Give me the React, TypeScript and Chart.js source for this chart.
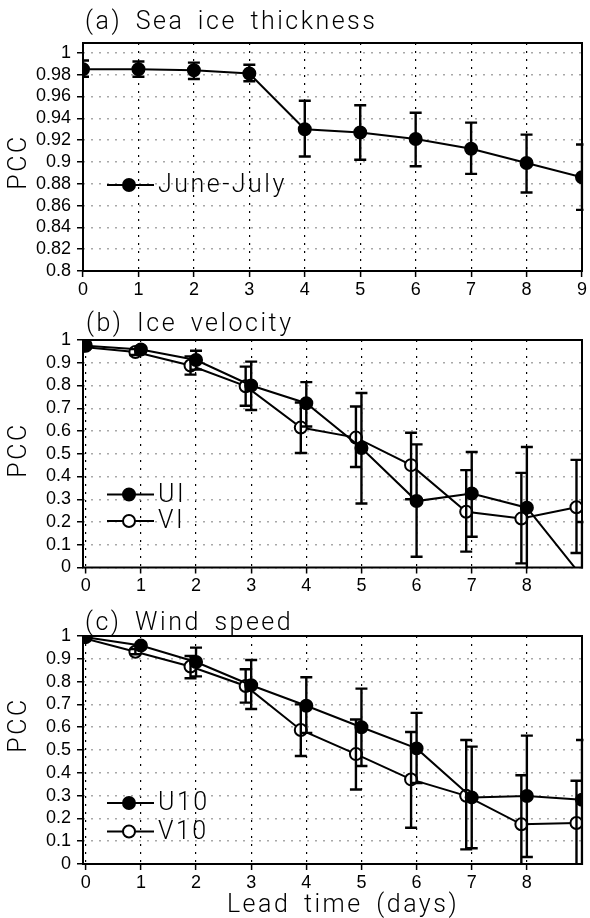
import React, { useEffect, useRef } from "react";
import { Chart, registerables } from "chart.js";

Chart.register(...registerables);

// ---------------- data ----------------
const leadDays = [0, 1, 2, 3, 4, 5, 6, 7, 8, 9];

// (a) Sea ice thickness
const thicknessLabel = "June-July";
const thicknessPCC = [0.985, 0.985, 0.984, 0.981, 0.93, 0.927, 0.921, 0.912, 0.899, 0.886];
const thicknessLow = [0.978, 0.978, 0.976, 0.974, 0.905, 0.902, 0.896, 0.889, 0.872, 0.856];
const thicknessHigh = [0.993, 0.992, 0.991, 0.989, 0.956, 0.952, 0.945, 0.936, 0.925, 0.916];

// (b) Ice velocity
const uiLabel = "UI";
const uiPCC = [0.975, 0.958, 0.912, 0.8, 0.722, 0.525, 0.292, 0.325, 0.263, -0.04];
const uiLow = [0.962, 0.946, 0.87, 0.692, 0.62, 0.281, 0.047, 0.135, -0.05, -0.3];
const uiHigh = [0.988, 0.97, 0.953, 0.905, 0.815, 0.767, 0.541, 0.508, 0.53, 0.2];
const viLabel = "VI";
const viPCC = [0.97, 0.947, 0.888, 0.797, 0.615, 0.571, 0.45, 0.245, 0.215, 0.265];
const viLow = [0.956, 0.934, 0.848, 0.711, 0.503, 0.442, 0.3, 0.07, 0.018, 0.064];
const viHigh = [0.984, 0.96, 0.928, 0.883, 0.725, 0.708, 0.592, 0.428, 0.416, 0.473];

// (c) Wind speed
const u10Label = "U10";
const u10PCC = [0.995, 0.958, 0.886, 0.784, 0.694, 0.6, 0.507, 0.292, 0.298, 0.282];
const u10Low = [0.988, 0.946, 0.823, 0.68, 0.575, 0.43, 0.355, 0.069, 0.031, -0.01];
const u10High = [1.0, 0.97, 0.949, 0.895, 0.819, 0.769, 0.663, 0.515, 0.563, 0.544];
const v10Label = "V10";
const v10PCC = [0.994, 0.931, 0.866, 0.781, 0.588, 0.482, 0.371, 0.299, 0.174, 0.18];
const v10Low = [0.986, 0.92, 0.815, 0.708, 0.474, 0.327, 0.159, 0.064, -0.01, -0.01];
const v10High = [1.0, 0.943, 0.912, 0.854, 0.7, 0.634, 0.579, 0.544, 0.389, 0.365];

// ticks & texts
const xTicksA = ["0", "1", "2", "3", "4", "5", "6", "7", "8", "9"];
const xTicksBC = ["0", "1", "2", "3", "4", "5", "6", "7", "8"];
const yTicksA = ["0.8", "0.82", "0.84", "0.86", "0.88", "0.9", "0.92", "0.94", "0.96", "0.98", "1"];
const yTicksBC = ["0", "0.1", "0.2", "0.3", "0.4", "0.5", "0.6", "0.7", "0.8", "0.9", "1"];
const titleA = "(a) Sea ice thickness";
const titleB = "(b) Ice velocity";
const titleC = "(c) Wind speed";
const yAxisTitle = "PCC";
const xAxisTitle = "Lead time (days)";

// ---------------- styling ----------------
const OPEN_SHIFT = -0.1;
const TICK_FONT = { family: "'Liberation Sans', Arial, sans-serif", size: 18 };
const DECOR_FONT = "300 25px Roboto, 'Liberation Sans', sans-serif";

const decorPlugin = {
  id: "panelDecor",
  afterDatasetsDraw(chart: any, _args: any, opts: any) {
    const { ctx, chartArea: ca } = chart;
    const xs = chart.scales.x;
    const ys = chart.scales.y;
    ctx.save();
    ctx.beginPath();
    ctx.rect(ca.left, ca.top - 1, ca.right - ca.left + 1.5, ca.bottom - ca.top + 2);
    ctx.clip();
    ctx.strokeStyle = "#000";
    ctx.lineWidth = 2.4;
    const cap = 6;
    chart.data.datasets.forEach((ds: any) => {
      ds.data.forEach((pt: any, i: number) => {
        const px = xs.getPixelForValue(pt.x);
        const pl = ys.getPixelForValue(ds.errLow[i]);
        const ph = ys.getPixelForValue(ds.errHigh[i]);
        ctx.beginPath();
        ctx.moveTo(px, pl);
        ctx.lineTo(px, ph);
        ctx.moveTo(px - cap, pl);
        ctx.lineTo(px + cap, pl);
        ctx.moveTo(px - cap, ph);
        ctx.lineTo(px + cap, ph);
        ctx.stroke();
      });
    });
    ctx.restore();
  },
  afterDraw(chart: any, _args: any, opts: any) {
    const { ctx, chartArea: ca } = chart;
    // frame
    ctx.save();
    ctx.strokeStyle = "#000";
    ctx.lineWidth = 2;
    ctx.strokeRect(ca.left, ca.top, ca.right - ca.left, ca.bottom - ca.top);
    ctx.restore();

    const setText = () => {
      ctx.font = DECOR_FONT;
      ctx.fillStyle = "#000";
      (ctx as any).letterSpacing = "2.5px";
      (ctx as any).wordSpacing = "5px";
      ctx.textBaseline = "middle";
    };

    // panel title
    ctx.save();
    setText();
    ctx.textAlign = "left";
    ctx.fillText(opts.title, opts.titleX, opts.titleY);
    ctx.restore();

    // y axis title
    ctx.save();
    setText();
    ctx.translate(opts.yTitleX, opts.yTitleY);
    ctx.rotate(-Math.PI / 2);
    ctx.textAlign = "center";
    ctx.fillText(yAxisTitle, 0, 0);
    ctx.restore();

    // x axis title
    if (opts.xTitle) {
      ctx.save();
      setText();
      ctx.textAlign = "center";
      ctx.fillText(opts.xTitle, opts.xTitleX, opts.xTitleY);
      ctx.restore();
    }

    // legend
    chart.data.datasets.forEach((ds: any, i: number) => {
      const y = opts.legendY[i];
      ctx.save();
      ctx.strokeStyle = "#000";
      ctx.lineWidth = 2;
      ctx.beginPath();
      ctx.moveTo(opts.legendLine[0], y);
      ctx.lineTo(opts.legendLine[1], y);
      ctx.stroke();
      ctx.beginPath();
      ctx.arc(opts.legendMarkerX, y, 6, 0, Math.PI * 2);
      ctx.fillStyle = ds.pointBackgroundColor;
      ctx.fill();
      ctx.stroke();
      setText();
      ctx.textAlign = "left";
      ctx.fillText(ds.label, opts.legendTextX, y + 1);
      ctx.restore();
    });
  },
};

type Series = { label: string; values: number[]; low: number[]; high: number[]; filled: boolean };

type Panel = {
  series: Series[];
  xMin: number;
  xMax: number;
  yMin: number;
  yMax: number;
  xTicks: string[];
  yTicks: string[];
  padTop: number;
  xAxisH: number;
  decor: any;
};

function makeConfig(p: Panel): any {
  return {
    type: "line",
    data: {
      datasets: p.series.map((s) => ({
        label: s.label,
        data: leadDays.map((d, i) => ({ x: d + (s.filled ? 0 : OPEN_SHIFT), y: s.values[i] })),
        errLow: s.low,
        errHigh: s.high,
        borderColor: "#000",
        borderWidth: 2,
        backgroundColor: s.filled ? "#000" : "#fff",
        pointBackgroundColor: s.filled ? "#000" : "#fff",
        pointBorderColor: "#000",
        pointBorderWidth: 2,
        pointRadius: 6,
        pointHoverRadius: 6,
        tension: 0,
        fill: false,
        clip: 0,
      })),
    },
    options: {
      animation: false,
      responsive: false,
      devicePixelRatio: 1,
      events: [],
      layout: { padding: { top: p.padTop, right: 3, left: 0, bottom: 0 } },
      plugins: {
        legend: { display: false },
        tooltip: { enabled: false },
        title: { display: false },
        panelDecor: p.decor,
      },
      scales: {
        x: {
          type: "linear",
          min: p.xMin,
          max: p.xMax,
          afterBuildTicks: (s: any) => {
            s.ticks = p.xTicks.map((t) => ({ value: parseFloat(t) }));
          },
          afterFit: (s: any) => {
            s.height = p.xAxisH;
            s.paddingLeft = 0;
            s.paddingRight = 0;
          },
          ticks: {
            autoSkip: false,
            maxRotation: 0,
            minRotation: 0,
            padding: 2,
            color: "#000",
            font: TICK_FONT,
            callback: (v: number) => p.xTicks.find((t) => Math.abs(parseFloat(t) - v) < 1e-9) ?? "",
          },
          grid: {
            color: "#000",
            lineWidth: 1.2,
            borderDash: [2, 6],
            drawTicks: true,
            tickLength: 6,
            tickColor: "#000",
            tickWidth: 1.5,
            tickBorderDash: [],
          },
          border: { display: false, dash: [2, 6] },
        },
        y: {
          type: "linear",
          min: p.yMin,
          max: p.yMax,
          afterBuildTicks: (s: any) => {
            s.ticks = p.yTicks.map((t) => ({ value: parseFloat(t) }));
          },
          afterFit: (s: any) => {
            s.width = 83;
            s.paddingTop = 0;
            s.paddingBottom = 0;
          },
          ticks: {
            autoSkip: false,
            padding: 6,
            color: "#000",
            font: TICK_FONT,
            callback: (v: number) => p.yTicks.find((t) => Math.abs(parseFloat(t) - v) < 1e-9) ?? "",
          },
          grid: {
            color: "#a8a8a8",
            lineWidth: 1.5,
            borderDash: [2, 6],
            drawTicks: true,
            tickLength: 6,
            tickColor: "#000",
            tickWidth: 1.5,
            tickBorderDash: [],
          },
          border: { display: false, dash: [2, 6] },
        },
      },
    },
    plugins: [decorPlugin],
  };
}

const panelA: Panel = {
  series: [{ label: thicknessLabel, values: thicknessPCC, low: thicknessLow, high: thicknessHigh, filled: true }],
  xMin: 0,
  xMax: 9,
  yMin: 0.8,
  yMax: 1.009,
  xTicks: xTicksA,
  yTicks: yTicksA,
  padTop: 43,
  xAxisH: 29,
  decor: {
    title: titleA, titleX: 85, titleY: 22.5,
    yTitleX: 19.5, yTitleY: 162,
    legendY: [185], legendLine: [107, 154], legendMarkerX: 129, legendTextX: 158,
  },
};

const panelB: Panel = {
  series: [
    { label: uiLabel, values: uiPCC, low: uiLow, high: uiHigh, filled: true },
    { label: viLabel, values: viPCC, low: viLow, high: viHigh, filled: false },
  ],
  xMin: -0.05,
  xMax: 9,
  yMin: 0,
  yMax: 1,
  xTicks: xTicksBC,
  yTicks: yTicksBC,
  padTop: 40,
  xAxisH: 30.5,
  decor: {
    title: titleB, titleX: 86, titleY: 25,
    yTitleX: 19.5, yTitleY: 150,
    legendY: [194.5, 221], legendLine: [107, 154], legendMarkerX: 129, legendTextX: 158,
  },
};

const panelC: Panel = {
  series: [
    { label: u10Label, values: u10PCC, low: u10Low, high: u10High, filled: true },
    { label: v10Label, values: v10PCC, low: v10Low, high: v10High, filled: false },
  ],
  xMin: -0.05,
  xMax: 9,
  yMin: 0,
  yMax: 1,
  xTicks: xTicksBC,
  yTicks: yTicksBC,
  padTop: 38,
  xAxisH: 54,
  decor: {
    title: titleC, titleX: 85, titleY: 25.5,
    yTitleX: 19.5, yTitleY: 127,
    xTitle: xAxisTitle, xTitleX: 343, xTitleY: 308,
    legendY: [205, 233.5], legendLine: [107, 154], legendMarkerX: 129, legendTextX: 158,
  },
};

const layouts = [
  { panel: panelA, top: 0, height: 300 },
  { panel: panelB, top: 300, height: 298 },
  { panel: panelC, top: 598, height: 320 },
];

function PanelChart({ panel, top, height }: { panel: Panel; top: number; height: number }) {
  const ref = useRef<HTMLCanvasElement | null>(null);
  useEffect(() => {
    if (!ref.current) return;
    const chart = new Chart(ref.current, makeConfig(panel));
    return () => chart.destroy();
  }, [panel]);
  return (
    <canvas
      ref={ref}
      width={590}
      height={height}
      style={{ position: "absolute", left: 0, top, width: 590, height }}
    />
  );
}

export default function App() {
  return (
    <div style={{ position: "absolute", left: 0, top: 0, width: 590, height: 918, background: "#fff" }}>
      {layouts.map((l, i) => (
        <PanelChart key={i} panel={l.panel} top={l.top} height={l.height} />
      ))}
    </div>
  );
}
